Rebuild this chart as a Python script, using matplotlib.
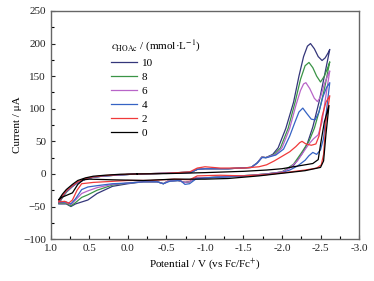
import matplotlib
matplotlib.use('Agg')
import matplotlib.pyplot as plt
import numpy as np

plt.rcParams['font.family'] = ['Liberation Serif', 'DejaVu Serif']
plt.rcParams['mathtext.fontset'] = 'stix'
plt.rcParams['font.size'] = 8

# CV curves: (potential / V, current / uA), forward -> reverse -> return
cv_10 = [(-0.12, 0), (-0.5, 1), (-0.82, 3), (-0.9, 7), (-1.0, 8), (-1.3, 8), (-1.6, 10),
         (-1.68, 17), (-1.74, 26), (-1.79, 25), (-1.88, 30), (-1.95, 40), (-2.05, 70),
         (-2.15, 110), (-2.22, 150), (-2.28, 180), (-2.33, 196), (-2.37, 200), (-2.42, 192),
         (-2.47, 180), (-2.52, 174), (-2.56, 178), (-2.6, 186), (-2.62, 191),
         (-2.55, 150), (-2.48, 110), (-2.4, 72), (-2.33, 47), (-2.26, 31), (-2.15, 13),
         (-2.0, 3), (-1.8, 0), (-1.6, -2), (-1.3, -4), (-1.0, -6), (-0.88, -6), (-0.8, -12),
         (-0.74, -13), (-0.65, -10), (-0.52, -11), (-0.46, -15), (-0.38, -12), (-0.2, -12),
         (0.0, -15), (0.2, -19), (0.4, -30), (0.52, -40), (0.6, -43), (0.68, -46), (0.74, -50),
         (0.8, -46), (0.9, -46),
         (0.85, -36), (0.8, -28), (0.72, -19), (0.65, -13), (0.55, -8), (0.45, -5), (0.3, -3),
         (0.1, -1.5), (-0.12, 0)]
cv_8 = [(-0.12, 0), (-0.5, 1), (-0.82, 3), (-0.9, 7), (-1.0, 8), (-1.3, 8), (-1.6, 10),
        (-1.68, 17), (-1.74, 26), (-1.79, 25), (-1.9, 30), (-1.98, 40), (-2.08, 70),
        (-2.17, 110), (-2.24, 145), (-2.3, 166), (-2.35, 171), (-2.4, 163), (-2.45, 150),
        (-2.5, 141), (-2.55, 150), (-2.6, 165), (-2.62, 172),
        (-2.55, 130), (-2.48, 95), (-2.42, 70), (-2.35, 50), (-2.25, 32), (-2.15, 15),
        (-2.0, 3), (-1.8, 0), (-1.6, -2), (-1.3, -4), (-1.0, -6), (-0.88, -6), (-0.8, -12),
        (-0.74, -13), (-0.65, -10), (-0.52, -11), (-0.46, -15), (-0.38, -12), (-0.2, -12),
        (0.0, -14), (0.2, -17), (0.4, -25), (0.52, -32), (0.6, -36), (0.68, -44), (0.74, -49),
        (0.8, -45), (0.9, -45),
        (0.85, -36), (0.8, -28), (0.72, -19), (0.65, -13), (0.55, -8), (0.45, -5), (0.3, -3),
        (0.1, -1.5), (-0.12, 0)]
cv_6 = [(-0.12, 0), (-0.5, 1), (-0.82, 3), (-0.9, 7), (-1.0, 8), (-1.3, 8), (-1.6, 10),
        (-1.68, 17), (-1.74, 26), (-1.79, 25), (-1.92, 30), (-2.0, 40), (-2.1, 70),
        (-2.18, 105), (-2.24, 128), (-2.28, 138), (-2.31, 140), (-2.36, 131), (-2.42, 116),
        (-2.46, 111), (-2.5, 118), (-2.55, 138), (-2.6, 153), (-2.62, 158),
        (-2.57, 120), (-2.52, 80), (-2.47, 60), (-2.41, 54), (-2.35, 46), (-2.28, 34),
        (-2.2, 20), (-2.1, 9), (-2.0, 3), (-1.8, 0), (-1.6, -2), (-1.3, -4), (-1.0, -6),
        (-0.88, -6), (-0.8, -12), (-0.74, -13), (-0.65, -10), (-0.52, -11), (-0.46, -15),
        (-0.38, -12), (-0.2, -12), (0.0, -14), (0.2, -16), (0.4, -21), (0.52, -26), (0.6, -30),
        (0.68, -40), (0.74, -47), (0.8, -44), (0.9, -44),
        (0.85, -35), (0.8, -27), (0.72, -19), (0.65, -13), (0.55, -8), (0.45, -5), (0.3, -3),
        (0.1, -1.5), (-0.12, 0)]
cv_4 = [(-0.12, 0), (-0.5, 1), (-0.82, 2), (-0.9, 7), (-1.0, 8), (-1.3, 8), (-1.6, 10),
        (-1.68, 17), (-1.74, 25), (-1.8, 25), (-1.92, 29), (-2.02, 38), (-2.1, 58),
        (-2.17, 80), (-2.22, 95), (-2.27, 101), (-2.32, 93), (-2.38, 84), (-2.43, 83),
        (-2.48, 95), (-2.53, 118), (-2.58, 133), (-2.62, 140),
        (-2.58, 100), (-2.54, 55), (-2.5, 37), (-2.45, 30), (-2.4, 33), (-2.35, 28),
        (-2.3, 21), (-2.2, 12), (-2.1, 6), (-2.0, 2), (-1.7, -2), (-1.4, -4), (-1.0, -6),
        (-0.88, -8), (-0.8, -15), (-0.74, -16), (-0.68, -10), (-0.55, -11), (-0.46, -15),
        (-0.38, -12), (-0.2, -12), (0.0, -14), (0.2, -15), (0.4, -18), (0.52, -20), (0.6, -24),
        (0.68, -38), (0.74, -46), (0.8, -43), (0.9, -44),
        (0.85, -35), (0.8, -27), (0.72, -19), (0.65, -13), (0.55, -8), (0.45, -5), (0.3, -3),
        (0.1, -1.5), (-0.12, 0)]
cv_2 = [(-0.12, 0), (-0.5, 1), (-0.8, 3), (-0.9, 9), (-1.0, 11), (-1.2, 9), (-1.5, 9),
        (-1.7, 11), (-1.8, 14), (-1.9, 20), (-2.0, 27), (-2.1, 34), (-2.18, 42), (-2.23, 48),
        (-2.26, 50), (-2.31, 46), (-2.38, 44), (-2.44, 46), (-2.48, 58), (-2.52, 88),
        (-2.57, 110), (-2.62, 120),
        (-2.57, 80), (-2.54, 30), (-2.51, 14), (-2.45, 9), (-2.3, 6), (-2.1, 3), (-1.8, -1),
        (-1.5, -3), (-1.2, -2), (-0.9, -3), (-0.8, -9), (-0.6, -8), (-0.3, -10), (0.0, -10),
        (0.3, -12), (0.45, -13), (0.6, -15), (0.66, -25), (0.72, -40), (0.77, -45), (0.82, -42),
        (0.9, -43),
        (0.85, -34), (0.8, -26), (0.72, -18), (0.65, -12), (0.55, -7), (0.45, -4.5), (0.3, -2.5),
        (0.1, -1), (-0.12, 0)]
cv_0 = [(-0.12, 0), (-0.5, 0.5), (-1.0, 2), (-1.5, 4), (-1.8, 6), (-2.0, 8), (-2.2, 12),
        (-2.4, 16), (-2.47, 22), (-2.5, 45), (-2.55, 80), (-2.61, 105),
        (-2.57, 60), (-2.54, 20), (-2.5, 10), (-2.3, 5), (-2.0, 1), (-1.7, -3), (-1.3, -7),
        (-1.0, -8), (-0.6, -8), (-0.2, -10), (0.2, -9), (0.5, -8), (0.58, -9), (0.65, -16),
        (0.72, -29), (0.8, -33), (0.86, -36), (0.9, -40),
        (0.85, -31), (0.8, -24), (0.72, -16), (0.65, -10), (0.55, -6), (0.45, -3.5), (0.3, -2),
        (0.1, -0.5), (-0.12, 0)]

labels = ['10', '8', '6', '4', '2', '0']
colors = ['#34367a', '#3a9446', '#b865c8', '#3563c4', '#f03a3a', '#000000']
curves = [cv_10, cv_8, cv_6, cv_4, cv_2, cv_0]

fig = plt.figure(figsize=(3.74, 2.81), dpi=100)
ax = fig.add_axes([0.136, 0.149, 0.824, 0.812])

for cv, lab, col in zip(curves, labels, colors):
    arr = np.array(cv)
    ax.plot(arr[:, 0], arr[:, 1], color=col, lw=0.9, label=lab)

ax.set_xlim(1.0, -3.0)
ax.set_ylim(-100, 250)
ax.set_xticks(np.arange(1.0, -3.01, -0.5))
ax.set_xticks(np.arange(0.75, -3.0, -0.5), minor=True)
ax.set_yticks(np.arange(-100, 251, 50))
ax.set_yticks(np.arange(-75, 250, 50), minor=True)
ax.xaxis.set_major_formatter(matplotlib.ticker.FormatStrFormatter('%.1f'))
ax.tick_params(direction='in', length=3, width=0.8, labelsize=8, colors='#222222')
ax.tick_params(which='minor', direction='in', length=2, width=0.8)
for sp in ax.spines.values():
    sp.set_color('#666666')
    sp.set_linewidth(1.0)

ax.set_xlabel('Potential / V (vs Fc/Fc$^{+}$)', fontsize=8, labelpad=2)
ax.set_ylabel('Current / μA', fontsize=8, labelpad=1)

leg = ax.legend(loc='upper left', bbox_to_anchor=(0.18, 0.9), frameon=False,
                title=r'$c_{\rm HOAc}$ / (mmol·L$^{-1}$)', fontsize=8, title_fontsize=8,
                handlelength=2.4, labelspacing=0.38, handletextpad=0.4,
                borderaxespad=0)
leg._legend_box.align = 'left'

fig.savefig('out.png', dpi=100)
